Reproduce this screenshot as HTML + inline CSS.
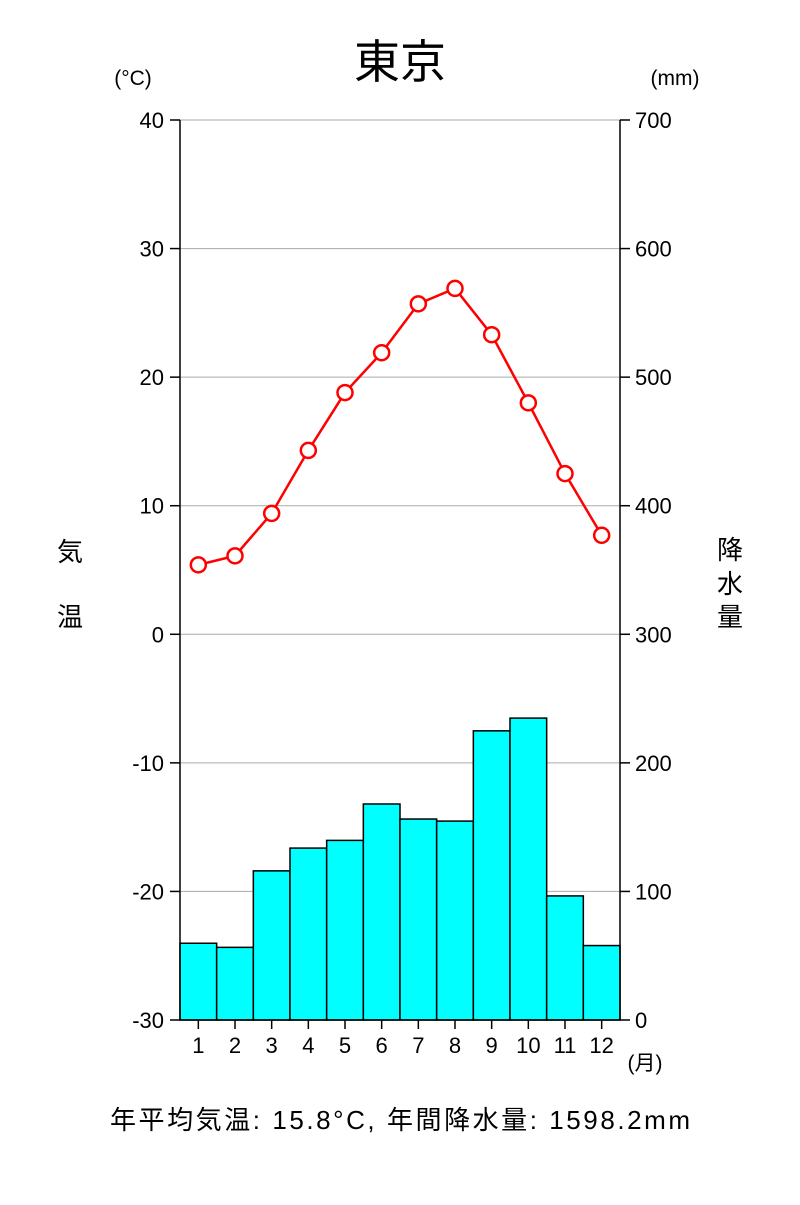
<!DOCTYPE html>
<html><head><meta charset="utf-8"><style>
body{margin:0;background:#fff;}
svg text{font-family:"Liberation Sans","Noto Sans CJK JP",sans-serif;fill:#000;}
</style></head><body>
<svg id="chart" width="800" height="1200" xmlns="http://www.w3.org/2000/svg">
<rect width="800" height="1200" fill="#fff"/>
<text x="400" y="78" font-size="46" text-anchor="middle">東京</text>
<text x="133" y="85" font-size="21" text-anchor="middle">(°C)</text>
<text x="675" y="85" font-size="21" text-anchor="middle">(mm)</text>
<g>
<text x="70" y="561" font-size="26" text-anchor="middle">気</text>
<text x="70" y="626" font-size="26" text-anchor="middle">温</text>
</g>
<g>
<text x="730" y="559" font-size="26" text-anchor="middle">降</text>
<text x="730" y="593" font-size="26" text-anchor="middle">水</text>
<text x="730" y="626" font-size="26" text-anchor="middle">量</text>
</g>
<text x="645" y="1070" font-size="21" text-anchor="middle">(月)</text>
<text x="400" y="1129" font-size="26" text-anchor="middle" textLength="580" lengthAdjust="spacing">年平均気温: 15.8°C,  年間降水量: 1598.2mm</text>
<g id="grid"></g><g id="bars"></g><g id="axes"></g><g id="line"></g>
</svg>
<script>
const months = [1,2,3,4,5,6,7,8,9,10,11,12];
const temps = [5.4,6.1,9.4,14.3,18.8,21.9,25.7,26.9,23.3,18.0,12.5,7.7];
const precip = [59.7,56.5,116.0,133.7,139.7,168.0,156.3,154.7,224.9,234.8,96.5,57.9];
const tempTicks = [40,30,20,10,0,-10,-20,-30];
const precipTicks = [700,600,500,400,300,200,100,0];

const L=180,R=620,T=120,B=1020;
const NS="http://www.w3.org/2000/svg";
const yT=v=>B-(v+30)/70*(B-T);
const yP=v=>B-v/700*(B-T);
const bw=(R-L)/months.length;
const xM=i=>L+bw*(i+0.5);
function mk(tag,attrs,parent){const e=document.createElementNS(NS,tag);for(const k in attrs)e.setAttribute(k,attrs[k]);document.getElementById(parent).appendChild(e);return e;}

tempTicks.forEach(v=>{
  if(v>-30){const g=mk('line',{x1:L,x2:R,y1:yT(v),y2:yT(v),stroke:'#aaa','stroke-width':1},'grid');
  
  }
  const t=mk('line',{x1:L-10,x2:L,y1:yT(v),y2:yT(v),stroke:'#000','stroke-width':1.5},'axes');
  
  
  const l=mk('text',{x:L-16,y:yT(v)+8,'font-size':22,'text-anchor':'end'},'axes');l.textContent=v;
  
  
});
precipTicks.forEach(v=>{
  const t=mk('line',{x1:R,x2:R+10,y1:yP(v),y2:yP(v),stroke:'#000','stroke-width':1.5},'axes');
  
  
  const l=mk('text',{x:R+15,y:yP(v)+8,'font-size':22},'axes');l.textContent=v;
  
  
});
precip.forEach((v,i)=>{
  const b=mk('rect',{x:L+bw*i,y:yP(v),width:bw,height:B-yP(v),fill:'#00ffff',stroke:'#000','stroke-width':1.5},'bars');
  
  
});
months.forEach((m,i)=>{
  const t=mk('line',{x1:xM(i),x2:xM(i),y1:B,y2:B+9,stroke:'#000','stroke-width':1.5},'axes');
  
  
  const l=mk('text',{x:xM(i),y:B+33,'font-size':22,'text-anchor':'middle'},'axes');l.textContent=m;
  
  
});
const al=mk('line',{x1:L,x2:L,y1:T,y2:B,stroke:'#000','stroke-width':1.5},'axes');


const ar=mk('line',{x1:R,x2:R,y1:T,y2:B,stroke:'#000','stroke-width':1.5},'axes');


const ab=mk('line',{x1:L,x2:R,y1:B,y2:B,stroke:'#000','stroke-width':1.5},'axes');


const pl=mk('polyline',{points:temps.map((v,i)=>xM(i)+','+yT(v)).join(' '),fill:'none',stroke:'#ff0000','stroke-width':2.5},'line');


temps.forEach((v,i)=>{
  const c=mk('circle',{cx:xM(i),cy:yT(v),r:7.5,fill:'#fff',stroke:'#ff0000','stroke-width':2.5},'line');
  
  
});
</script>
</body></html>
